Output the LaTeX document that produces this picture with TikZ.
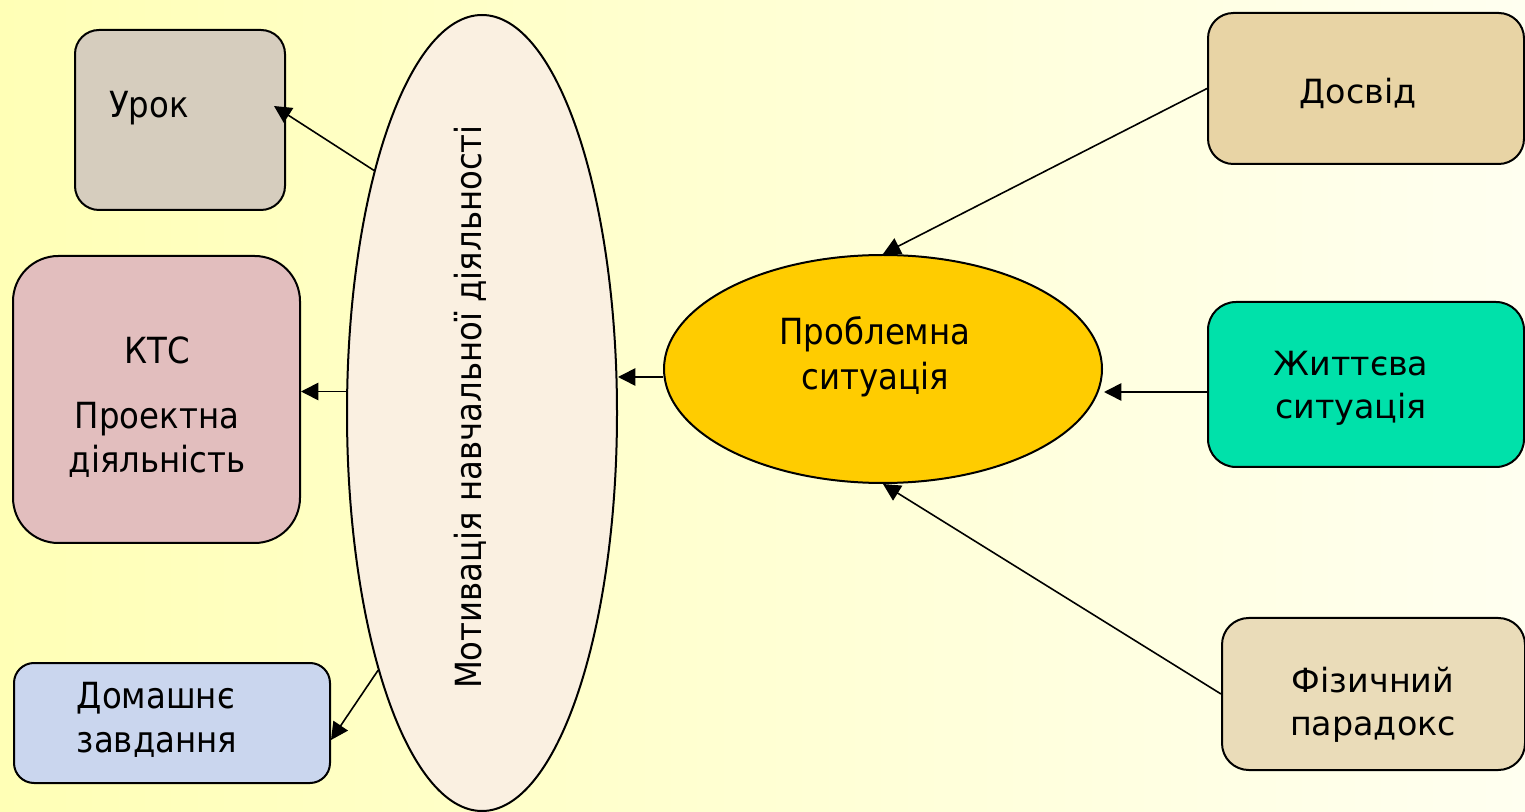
\documentclass[tikz,border=0pt]{standalone}
\usepackage{fontspec}
\setmainfont{DejaVu Sans}
\newfontfamily\tah{DejaVu Sans Condensed}
\usetikzlibrary{arrows.meta,shapes.geometric,calc}
\definecolor{bgL}{RGB}{255,255,182}
\definecolor{bgR}{RGB}{255,255,240}
\definecolor{urokC}{RGB}{214,205,190}
\definecolor{ktcC}{RGB}{226,190,190}
\definecolor{domC}{RGB}{202,214,238}
\definecolor{motC}{RGB}{250,240,225}
\definecolor{probC}{RGB}{255,204,0}
\definecolor{dosC}{RGB}{232,212,165}
\definecolor{zhC}{RGB}{0,225,170}
\definecolor{fizC}{RGB}{234,220,185}
\tikzset{
  box/.style={draw=black, line width=1.5pt, inner sep=0pt},
  lt/.style={font=\tah\fontsize{27pt}{33pt}\selectfont, align=center, inner sep=0pt},
  rt/.style={font=\fontsize{25pt}{32pt}\selectfont, align=center, inner sep=0pt},
  arr/.style={line width=1.2pt, -{Triangle[length=13pt,width=13pt]}}
}
\begin{document}
\begin{tikzpicture}[x=0.75pt,y=-0.75pt]
\useasboundingbox (0,0) rectangle (1525,812);
\shade[left color=bgL, right color=bgR] (0,0) rectangle (1525,812);
% left boxes
\node[box, fill=urokC, rounded corners=18pt, minimum width=157.5pt, minimum height=135pt] (urok) at (180,120) {};
\node[lt] (urokT) at (149,108) {Урок};
\node[box, fill=ktcC, rounded corners=34pt, minimum width=215.25pt, minimum height=215.25pt] (ktc) at (156.5,399.5) {};
\node[lt] (ktcT) at (157,350) {КТС};
\node[lt] (ktcT2) at (157,440) {Проектна\\діяльність};
\node[box, fill=domC, rounded corners=15pt, minimum width=237pt, minimum height=90pt] (dom) at (172,723) {};
\node[lt, align=left] (domT) at (157,720) {Домашнє\\завдання};
% big ellipse
\node[box, ellipse, fill=motC, minimum width=202.5pt, minimum height=597pt] (mot) at (482,413) {};
\node[lt, rotate=90] (motT) at (470,407) {Мотивація навчальної діяльності};
% problem ellipse
\node[box, ellipse, fill=probC, minimum width=328.5pt, minimum height=171pt] (prob) at (883,369) {};
\node[lt, font=\tah\fontsize{27pt}{34pt}\selectfont] (probT) at (875,357) {Проблемна\\ситуація};
% right boxes
\node[box, fill=dosC, rounded corners=19pt, minimum width=237pt, minimum height=113.25pt] (dos) at (1366,88.5) {};
\node[rt] (dosT) at (1358,93) {Досвід};
\node[box, fill=zhC, rounded corners=21pt, minimum width=237pt, minimum height=123.75pt] (zh) at (1366,384.5) {};
\node[rt] (zhT) at (1351,388) {Життєва\\ситуація};
\node[box, fill=fizC, rounded corners=20pt, minimum width=227.25pt, minimum height=114pt] (fiz) at (1373.5,694) {};
\node[rt] (fizT) at (1373,705) {Фізичний\\парадокс};
% connectors
\coordinate (urokTip) at ($(urok.east)+(-12,-14)$);
\draw[arr] (mot.114) -- (urokTip);
\draw[arr] (mot.171) -- (mot.171 -| ktc.east);
\coordinate (domTip) at ($(dom.east)+(0,17)$);
\draw[arr] (mot.248) -- (domTip);
\coordinate (probL) at ($(prob.west)+(0,8)$);
\draw[arr] (probL) -- (probL -| mot.east);
\coordinate (zhL) at ($(zh.west)+(0,7.5)$);
\draw[arr] (zhL) -- ($(prob.east |- zhL)+(1,0)$);
\draw[arr] (dos.west) -- (prob.north);
\draw[arr] (fiz.west) -- (prob.south);
\end{tikzpicture}
\end{document}
